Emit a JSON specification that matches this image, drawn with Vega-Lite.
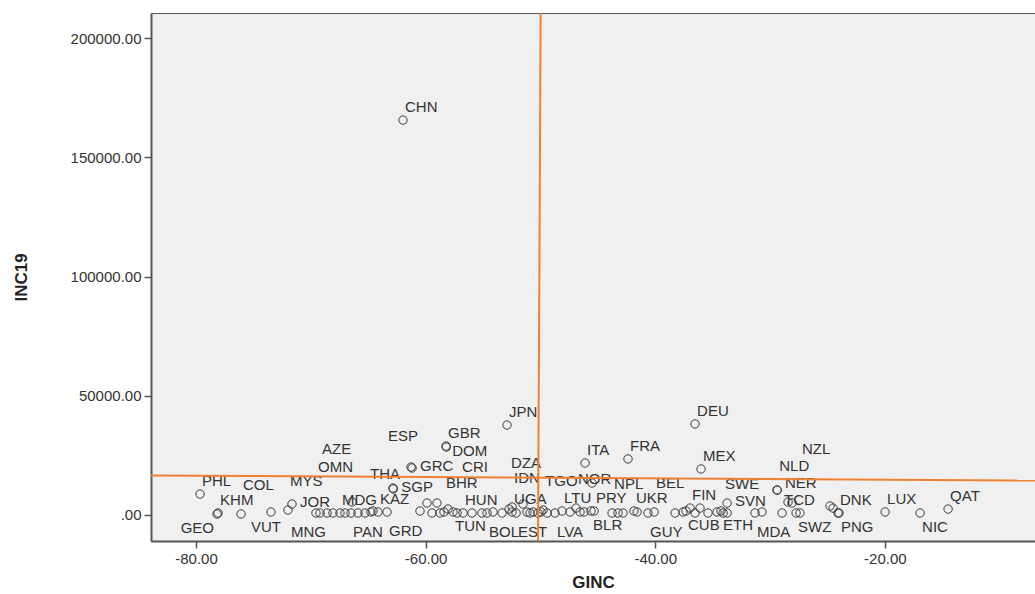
{
  "$schema": "https://vega.github.io/schema/vega-lite/v6.json",
  "width": 884,
  "height": 528,
  "autosize": {"type": "none"},
  "padding": {"left": 151, "top": 13, "right": 0, "bottom": 53},
  "background": "white",
  "config": {
    "view": {"fill": "#F0F0F0", "stroke": "#555", "strokeWidth": 1},
    "font": "Liberation Sans"
  },
  "datasets": {
    "pts": [
      {"country": "CHN", "GINC": -61.97, "INC19": 165600},
      {"country": "JPN", "GINC": -52.91, "INC19": 37700},
      {"country": "DEU", "GINC": -36.53, "INC19": 38200},
      {"country": "GBR", "GINC": -58.22, "INC19": 28900},
      {"country": "DOM", "GINC": -58.20, "INC19": 28500},
      {"country": "MEX", "GINC": -36.01, "INC19": 19300},
      {"country": "ITA", "GINC": -46.11, "INC19": 21800},
      {"country": "FRA", "GINC": -42.37, "INC19": 23500},
      {"country": "GRC", "GINC": -61.18, "INC19": 19700},
      {"country": "ESP", "GINC": -61.27, "INC19": 20100},
      {"country": "THA", "GINC": -62.84, "INC19": 11300},
      {"country": "SGP", "GINC": -62.82, "INC19": 10900},
      {"country": "PHL", "GINC": -79.65, "INC19": 8800},
      {"country": "KHM", "GINC": -78.08, "INC19": 840},
      {"country": "GEO", "GINC": -78.17, "INC19": 420},
      {"country": "COL", "GINC": -76.08, "INC19": 420},
      {"country": "VUT", "GINC": -73.47, "INC19": 1260},
      {"country": "MYS", "GINC": -71.99, "INC19": 2100},
      {"country": "JOR", "GINC": -71.64, "INC19": 4600},
      {"country": "MNG", "GINC": -68.59, "INC19": 840},
      {"country": "OMN", "GINC": -69.55, "INC19": 840},
      {"country": "AZE", "GINC": -69.20, "INC19": 840},
      {"country": "MDG", "GINC": -67.46, "INC19": 840},
      {"country": "PAN", "GINC": -66.50, "INC19": 840},
      {"country": "KAZ", "GINC": -64.15, "INC19": 1260},
      {"country": "GRD", "GINC": -63.36, "INC19": 1260},
      {"country": "BHR", "GINC": -58.40, "INC19": 1260},
      {"country": "CRI", "GINC": -57.26, "INC19": 840},
      {"country": "HUN", "GINC": -56.74, "INC19": 840},
      {"country": "TUN", "GINC": -57.61, "INC19": 1260},
      {"country": "BOL", "GINC": -54.65, "INC19": 840},
      {"country": "UGA", "GINC": -52.47, "INC19": 1260},
      {"country": "EST", "GINC": -52.12, "INC19": 840},
      {"country": "DZA", "GINC": -52.73, "INC19": 2500},
      {"country": "IDN", "GINC": -52.47, "INC19": 3350},
      {"country": "TGO", "GINC": -49.77, "INC19": 2100},
      {"country": "LVA", "GINC": -48.73, "INC19": 840},
      {"country": "LTU", "GINC": -48.12, "INC19": 1680},
      {"country": "NOR", "GINC": -46.90, "INC19": 2900},
      {"country": "BLR", "GINC": -45.59, "INC19": 1680},
      {"country": "PRY", "GINC": -45.33, "INC19": 1680},
      {"country": "NPL", "GINC": -43.76, "INC19": 840},
      {"country": "UKR", "GINC": -41.85, "INC19": 1680},
      {"country": "GUY", "GINC": -40.63, "INC19": 840},
      {"country": "BEL", "GINC": -40.10, "INC19": 1260},
      {"country": "CUB", "GINC": -37.32, "INC19": 1680},
      {"country": "FIN", "GINC": -36.97, "INC19": 2900},
      {"country": "ETH", "GINC": -34.27, "INC19": 1680},
      {"country": "SWE", "GINC": -34.09, "INC19": 840},
      {"country": "SVN", "GINC": -33.74, "INC19": 5000},
      {"country": "MDA", "GINC": -31.31, "INC19": 840},
      {"country": "TCD", "GINC": -28.95, "INC19": 840},
      {"country": "NER", "GINC": -29.39, "INC19": 10500},
      {"country": "NLD", "GINC": -29.37, "INC19": 10450},
      {"country": "SWZ", "GINC": -27.73, "INC19": 840},
      {"country": "NZL", "GINC": -27.39, "INC19": 840},
      {"country": "DNK", "GINC": -24.08, "INC19": 840},
      {"country": "PNG", "GINC": -23.99, "INC19": 840},
      {"country": "LUX", "GINC": -19.98, "INC19": 1260},
      {"country": "NIC", "GINC": -16.93, "INC19": 840},
      {"country": "QAT", "GINC": -14.49, "INC19": 2500},
      {"country": "", "GINC": -68.07, "INC19": 840},
      {"country": "", "GINC": -67.02, "INC19": 840},
      {"country": "", "GINC": -65.89, "INC19": 840},
      {"country": "", "GINC": -65.28, "INC19": 840},
      {"country": "", "GINC": -64.76, "INC19": 1260},
      {"country": "", "GINC": -66.41, "INC19": 5450},
      {"country": "", "GINC": -64.58, "INC19": 1680},
      {"country": "", "GINC": -60.49, "INC19": 1680},
      {"country": "", "GINC": -59.88, "INC19": 5030},
      {"country": "", "GINC": -59.01, "INC19": 5030},
      {"country": "", "GINC": -59.44, "INC19": 840},
      {"country": "", "GINC": -58.75, "INC19": 840},
      {"country": "", "GINC": -58.05, "INC19": 2500},
      {"country": "", "GINC": -55.96, "INC19": 840},
      {"country": "", "GINC": -55.09, "INC19": 840},
      {"country": "", "GINC": -54.13, "INC19": 1260},
      {"country": "", "GINC": -53.34, "INC19": 840},
      {"country": "", "GINC": -51.52, "INC19": 4600},
      {"country": "", "GINC": -51.17, "INC19": 1260},
      {"country": "", "GINC": -50.90, "INC19": 840},
      {"country": "", "GINC": -50.64, "INC19": 1260},
      {"country": "", "GINC": -50.21, "INC19": 840},
      {"country": "", "GINC": -49.94, "INC19": 1260},
      {"country": "", "GINC": -49.42, "INC19": 840},
      {"country": "", "GINC": -47.42, "INC19": 1260},
      {"country": "", "GINC": -46.55, "INC19": 1260},
      {"country": "", "GINC": -46.20, "INC19": 1260},
      {"country": "", "GINC": -45.50, "INC19": 13400},
      {"country": "", "GINC": -43.24, "INC19": 840},
      {"country": "", "GINC": -42.80, "INC19": 840},
      {"country": "", "GINC": -41.58, "INC19": 1260},
      {"country": "", "GINC": -38.27, "INC19": 840},
      {"country": "", "GINC": -37.58, "INC19": 1260},
      {"country": "", "GINC": -36.53, "INC19": 840},
      {"country": "", "GINC": -36.10, "INC19": 2900},
      {"country": "", "GINC": -35.40, "INC19": 840},
      {"country": "", "GINC": -34.62, "INC19": 1260},
      {"country": "", "GINC": -33.74, "INC19": 840},
      {"country": "", "GINC": -30.70, "INC19": 1260},
      {"country": "", "GINC": -28.43, "INC19": 5450},
      {"country": "", "GINC": -28.08, "INC19": 5030},
      {"country": "", "GINC": -24.77, "INC19": 3770},
      {"country": "", "GINC": -24.51, "INC19": 2900}
    ],
    "refs": [
      {"line": "h", "GINC": -83.92, "INC19": 16560},
      {"line": "h", "GINC": -6.92, "INC19": 14470},
      {"line": "v", "GINC": -49.98, "INC19": 210489},
      {"line": "v", "GINC": -50.21, "INC19": -10902}
    ]
  },
  "encoding": {
    "x": {
      "field": "GINC",
      "type": "quantitative",
      "scale": {"domain": [-83.92, -6.92], "nice": false, "zero": false},
      "axis": {
        "values": [-80, -60, -40, -20],
        "labelExpr": "'-' + format(abs(datum.value), '.2f')",
        "grid": false,
        "tickSize": 7,
        "tickColor": "#555",
        "tickWidth": 1.5,
        "domainColor": "#555",
        "domainWidth": 2,
        "labelFontSize": 15,
        "labelColor": "#333",
        "labelPadding": 3,
        "title": "GINC",
        "titleFontSize": 17,
        "titleFontWeight": "bold",
        "titleColor": "#222",
        "titlePadding": 8
      }
    },
    "y": {
      "field": "INC19",
      "type": "quantitative",
      "scale": {"domain": [-10902, 210489], "nice": false, "zero": false},
      "axis": {
        "values": [0, 50000, 100000, 150000, 200000],
        "labelExpr": "datum.value == 0 ? '.00' : format(datum.value, '.2f')",
        "grid": false,
        "tickSize": 7,
        "tickColor": "#555",
        "tickWidth": 1.5,
        "domainColor": "#555",
        "domainWidth": 2,
        "labelFontSize": 15,
        "labelColor": "#333",
        "labelPadding": 3,
        "title": "INC19",
        "titleFontSize": 17,
        "titleFontWeight": "bold",
        "titleColor": "#222",
        "titlePadding": 40
      }
    }
  },
  "layer": [
    {
      "data": {"name": "pts"},
      "mark": {"type": "point", "shape": "circle", "filled": false, "size": 70, "stroke": "#3a3a3a", "strokeWidth": 1, "opacity": 1}
    },
    {
      "data": {"name": "pts"},
      "transform": [{"filter": {"field": "country", "oneOf": ["CHN","JPN","DEU","GBR","MEX","ITA","FRA","PHL","KHM","MDG","KAZ","HUN","UGA","LTU","PRY","UKR","FIN","TCD","DNK","LUX","QAT"]}}],
      "mark": {"type": "text", "align": "left", "baseline": "middle", "dx": 2, "dy": -13, "fontSize": 15, "color": "#333"},
      "encoding": {"text": {"field": "country"}}
    },
    {
      "data": {"name": "pts"},
      "transform": [{"filter": {"field": "country", "oneOf": ["COL","MYS","BHR","IDN","TGO","NOR","NPL","BEL","SWE"]}}],
      "mark": {"type": "text", "align": "left", "baseline": "middle", "dx": 2, "dy": -29, "fontSize": 15, "color": "#333"},
      "encoding": {"text": {"field": "country"}}
    },
    {
      "data": {"name": "pts"},
      "transform": [{"filter": {"field": "country", "oneOf": ["NLD"]}}],
      "mark": {"type": "text", "align": "left", "baseline": "middle", "dx": 2, "dy": -24, "fontSize": 15, "color": "#333"},
      "encoding": {"text": {"field": "country"}}
    },
    {
      "data": {"name": "pts"},
      "transform": [{"filter": {"field": "country", "oneOf": ["NER"]}}],
      "mark": {"type": "text", "align": "left", "baseline": "middle", "dx": 8, "dy": -7, "fontSize": 15, "color": "#333"},
      "encoding": {"text": {"field": "country"}}
    },
    {
      "data": {"name": "pts"},
      "transform": [{"filter": {"field": "country", "oneOf": ["OMN","DZA"]}}],
      "mark": {"type": "text", "align": "left", "baseline": "middle", "dx": 2, "dy": -46, "fontSize": 15, "color": "#333"},
      "encoding": {"text": {"field": "country"}}
    },
    {
      "data": {"name": "pts"},
      "transform": [{"filter": {"field": "country", "oneOf": ["CRI"]}}],
      "mark": {"type": "text", "align": "left", "baseline": "middle", "dx": 5, "dy": -46, "fontSize": 15, "color": "#333"},
      "encoding": {"text": {"field": "country"}}
    },
    {
      "data": {"name": "pts"},
      "transform": [{"filter": {"field": "country", "oneOf": ["AZE","NZL"]}}],
      "mark": {"type": "text", "align": "left", "baseline": "middle", "dx": 2, "dy": -64, "fontSize": 15, "color": "#333"},
      "encoding": {"text": {"field": "country"}}
    },
    {
      "data": {"name": "pts"},
      "transform": [{"filter": {"field": "country", "oneOf": ["GRC","JOR","SGP","SVN"]}}],
      "mark": {"type": "text", "align": "left", "baseline": "middle", "dx": 8, "dy": -2, "fontSize": 15, "color": "#333"},
      "encoding": {"text": {"field": "country"}}
    },
    {
      "data": {"name": "pts"},
      "transform": [{"filter": {"field": "country", "oneOf": ["DOM"]}}],
      "mark": {"type": "text", "align": "left", "baseline": "middle", "dx": 6, "dy": 4, "fontSize": 15, "color": "#333"},
      "encoding": {"text": {"field": "country"}}
    },
    {
      "data": {"name": "pts"},
      "transform": [{"filter": {"field": "country", "oneOf": ["TUN","BLR","CUB","ETH","SWZ","PNG","NIC"]}}],
      "mark": {"type": "text", "align": "left", "baseline": "middle", "dx": 2, "dy": 14, "fontSize": 15, "color": "#333"},
      "encoding": {"text": {"field": "country"}}
    },
    {
      "data": {"name": "pts"},
      "transform": [{"filter": {"field": "country", "oneOf": ["PAN","GRD","BOL","EST","LVA","GUY","MDA"]}}],
      "mark": {"type": "text", "align": "left", "baseline": "middle", "dx": 2, "dy": 19, "fontSize": 15, "color": "#333"},
      "encoding": {"text": {"field": "country"}}
    },
    {
      "data": {"name": "pts"},
      "transform": [{"filter": {"field": "country", "oneOf": ["GEO"]}}],
      "mark": {"type": "text", "align": "right", "baseline": "middle", "dx": -3, "dy": 14, "fontSize": 15, "color": "#333"},
      "encoding": {"text": {"field": "country"}}
    },
    {
      "data": {"name": "pts"},
      "transform": [{"filter": {"field": "country", "oneOf": ["MNG"]}}],
      "mark": {"type": "text", "align": "right", "baseline": "middle", "dx": -1, "dy": 19, "fontSize": 15, "color": "#333"},
      "encoding": {"text": {"field": "country"}}
    },
    {
      "data": {"name": "pts"},
      "transform": [{"filter": {"field": "country", "oneOf": ["VUT"]}}],
      "mark": {"type": "text", "align": "center", "baseline": "middle", "dx": -5, "dy": 15, "fontSize": 15, "color": "#333"},
      "encoding": {"text": {"field": "country"}}
    },
    {
      "data": {"name": "pts"},
      "transform": [{"filter": {"field": "country", "oneOf": ["THA"]}}],
      "mark": {"type": "text", "align": "right", "baseline": "middle", "dx": 7, "dy": -14, "fontSize": 15, "color": "#333"},
      "encoding": {"text": {"field": "country"}}
    },
    {
      "data": {"name": "pts"},
      "transform": [{"filter": {"field": "country", "oneOf": ["ESP"]}}],
      "mark": {"type": "text", "align": "right", "baseline": "middle", "dx": 7, "dy": -31, "fontSize": 15, "color": "#333"},
      "encoding": {"text": {"field": "country"}}
    },
    {
      "data": {"name": "refs"},
      "mark": {"type": "line", "color": "#EF8133", "strokeWidth": 2, "clip": true},
      "encoding": {"detail": {"field": "line"}}
    }
  ]
}
